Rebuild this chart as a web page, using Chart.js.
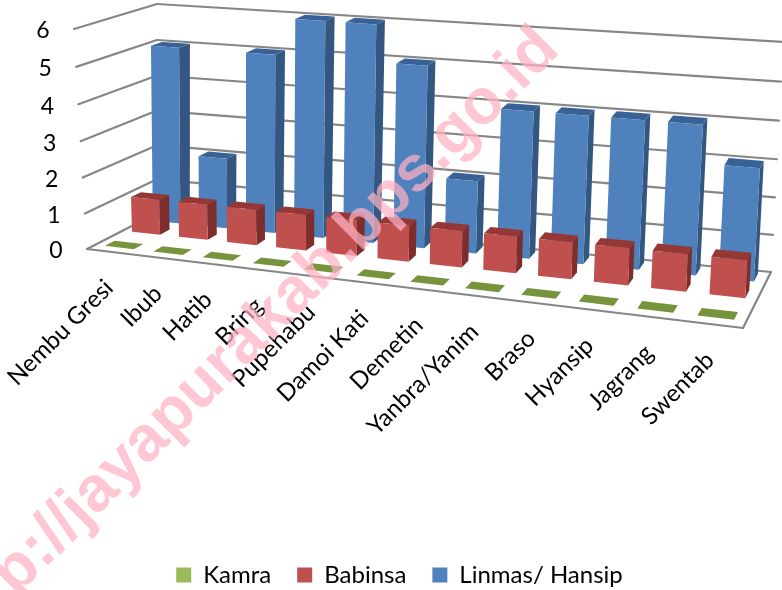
<!DOCTYPE html>
<html><head><meta charset="utf-8">
<style>html,body{margin:0;padding:0;background:#fff;overflow:hidden}canvas{display:block}</style>
<script src="https://cdn.jsdelivr.net/npm/chart.js@4"></script>
</head><body><canvas id="c" width="782" height="590"></canvas>
<script>
const categories = ["Nembu Gresi","Ibub","Hatib","Bring","Pupehabu","Damoi Kati","Demetin","Yanbra/Yanim","Braso","Hyansip","Jagrang","Swentab"];
const kamra   = [0,0,0,0,0,0,0,0,0,0,0,0];
const babinsa = [1,1,1,1,1,1,1,1,1,1,1,1];
const linmas  = [5,2,5,6,6,5,2,4,4,4,4,3];
const seriesNames = ["Kamra","Babinsa","Linmas/ Hansip"];
const watermark = "http://jayapurakab.bps.go.id";

// Screen corners of the 3D box: f/b = front/back, l/r = left/right, 0/1 = floor/top
const box = {
  fl0:[87,249], fr0:[743,328], bl0:[157,213], br0:[771,272],
  fl1:[74,29],  fr1:[758,90],  bl1:[157,4],   br1:[783,42]
};
const warp = (t,r)=>t/(t+r*(1-t));
function project(u,v,d){
  const g=warp(u,1.14), h=warp(v,1.04), out=[0,0];
  for(let i=0;i<2;i++){
    const f0=box.fl0[i]+(box.fr0[i]-box.fl0[i])*g, b0=box.bl0[i]+(box.br0[i]-box.bl0[i])*g;
    const f1=box.fl1[i]+(box.fr1[i]-box.fl1[i])*g, b1=box.bl1[i]+(box.br1[i]-box.bl1[i])*g;
    const p0=f0+(b0-f0)*d, p1=f1+(b1-f1)*d;
    out[i]=p0+(p1-p0)*h;
  }
  return out;
}
const depths=[[0.12,0.26],[0.51,0.65],[0.81,0.95]];
const faces=[
  {front:"#9BBB59",side:"#5f7530",top:"#77933C"},
  {front:"#C0504D",side:"#7D2E2C",top:"#953735"},
  {front:"#4F81BD",side:"#335780",top:"#386296"}
];
function poly(ctx,pts,fill){
  ctx.beginPath();pts.forEach((p,i)=>i?ctx.lineTo(p[0],p[1]):ctx.moveTo(p[0],p[1]));ctx.closePath();
  ctx.fillStyle=fill;ctx.fill();
}
function line(ctx,a,b){ctx.beginPath();ctx.moveTo(a[0],a[1]);ctx.lineTo(b[0],b[1]);ctx.stroke();}

const chart3d={
  id:"chart3d",
  beforeDatasetsDraw(chart){
    const ctx=chart.ctx, ys=chart.scales.y, xs=chart.scales.x, area=chart.chartArea;
    ctx.save();
    ctx.strokeStyle="#868686";ctx.lineWidth=2.2;ctx.lineCap="round";
    ys.ticks.forEach(t=>{
      const v=(area.bottom-ys.getPixelForValue(t.value))/(area.bottom-area.top);
      line(ctx,project(0,v,0),project(0,v,1));
      line(ctx,project(0,v,1),project(1,v,1));
    });
    line(ctx,project(0,0,0),project(1,0,0));
    line(ctx,project(1,0,0),project(1,0,1));
    // value labels, following the left edge of the wall
    ctx.fillStyle="#000";ctx.font="23px Lato";ctx.textAlign="center";ctx.textBaseline="middle";
    ys.ticks.forEach(t=>{
      const v=(area.bottom-ys.getPixelForValue(t.value))/(area.bottom-area.top);
      const p=project(0,v,0);
      ctx.fillText(String(t.value),p[0]-31,p[1]+2);
    });
    // category labels, following the front edge of the floor
    ctx.font="24px Lato";ctx.textAlign="right";
    categories.forEach((c,i)=>{
      const u=(xs.getPixelForValue(i)-area.left)/(area.right-area.left);
      const p=project(u,0,0);
      ctx.save();ctx.translate(p[0]-2,p[1]+32);ctx.rotate(-Math.PI/4);ctx.fillText(c,0,0);ctx.restore();
    });
    ctx.restore();
  },
  beforeDatasetDraw(chart,args){
    const ctx=chart.ctx, area=chart.chartArea, idx=args.index, col=faces[idx], [d0,d1]=depths[idx];
    const U=x=>(x-area.left)/(area.right-area.left), V=y=>(area.bottom-y)/(area.bottom-area.top);
    args.meta.data.forEach(el=>{
      const b=el.getProps(["x","y","base","width"],true);
      const ul=U(b.x-b.width/2), ur=U(b.x+b.width/2), vt=V(b.y), vb=V(b.base);
      if(vt-vb<1e-6){
        poly(ctx,[project(ul,vb,d0),project(ur,vb,d0),project(ur,vb,d1),project(ul,vb,d1)],col.top);
        return;
      }
      poly(ctx,[project(ur,vb,d0),project(ur,vb,d1),project(ur,vt,d1),project(ur,vt,d0)],col.side);
      poly(ctx,[project(ul,vt,d0),project(ur,vt,d0),project(ur,vt,d1),project(ul,vt,d1)],col.top);
      poly(ctx,[project(ul,vb,d0),project(ur,vb,d0),project(ur,vt,d0),project(ul,vt,d0)],col.front);
    });
    return false;
  },
  afterDraw(chart){
    const ctx=chart.ctx;
    ctx.save();
    ctx.translate(-42,655);ctx.rotate(-Math.PI/4);
    ctx.font="bold 64px 'Liberation Sans'";ctx.textAlign="left";ctx.textBaseline="alphabetic";
    ctx.fillStyle="rgba(255,178,195,0.72)";
    ctx.fillText(watermark,0,0);
    ctx.restore();
  }
};

new Chart(document.getElementById("c"),{
  type:"bar",
  data:{labels:categories,datasets:[
    {label:seriesNames[0],data:kamra,backgroundColor:"#9BBB59",order:1},
    {label:seriesNames[1],data:babinsa,backgroundColor:"#C0504D",order:2},
    {label:seriesNames[2],data:linmas,backgroundColor:"#4F81BD",order:3}
  ]},
  options:{
    responsive:false,animation:false,grouped:false,
    barPercentage:0.6,categoryPercentage:1,
    layout:{padding:{left:17,right:0,top:0,bottom:-7}},
    scales:{
      x:{display:false},
      y:{display:false,min:0,max:6,ticks:{stepSize:1}}
    },
    plugins:{
      tooltip:{enabled:false},
      legend:{position:"bottom",labels:{boxWidth:15,boxHeight:15,padding:26,color:"#000",font:{family:"Lato",size:24}}}
    }
  },
  plugins:[chart3d]
});
</script></body></html>
